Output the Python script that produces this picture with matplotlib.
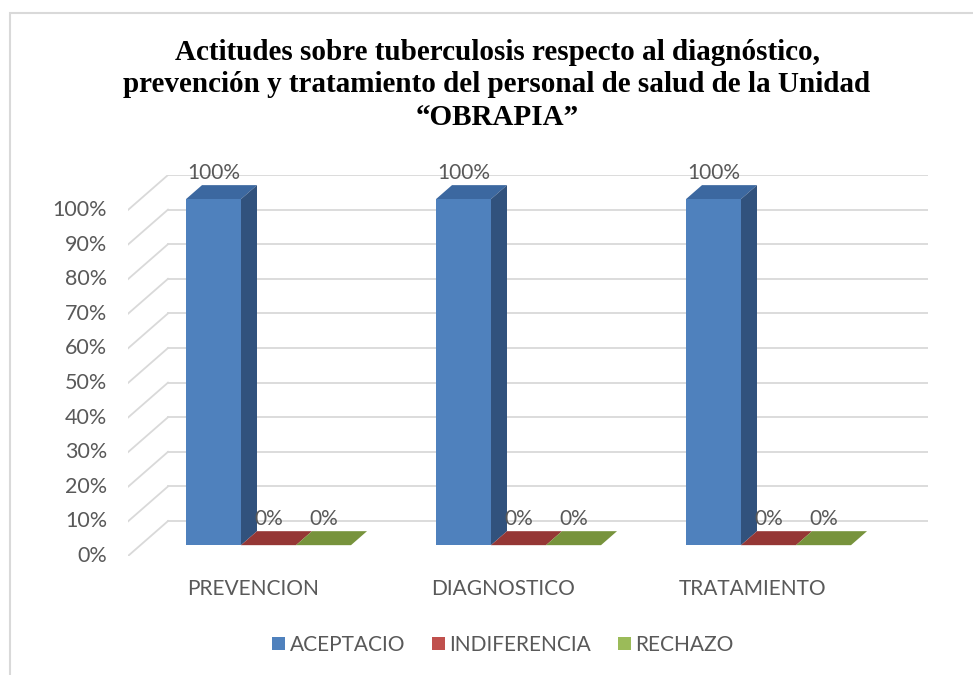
import matplotlib.pyplot as plt
from matplotlib.patches import Polygon, Rectangle, Patch

categories = ["PREVENCION", "DIAGNOSTICO", "TRATAMIENTO"]
series = ["ACEPTACIO", "INDIFERENCIA", "RECHAZO"]
aceptacion = [100, 100, 100]
indiferencia = [0, 0, 0]
rechazo = [0, 0, 0]
yticks = list(range(0, 101, 10))

front_cols = ["#4f81bd", "#c0504d", "#9bbb59"]
top_cols = ["#3c68a0", "#953735", "#77933c"]
side_cols = ["#31527d", "#7a2c2a", "#5f7630"]

FONT = "Lato"
TXT = "#595959"

# depth of the whole 3D box, in data units
DX, DY = 0.16, 10.1
XMAX = 3.2
# bar depth range (fractions of total depth)
F0, F1 = 0.31, 0.71
BW = 0.22
START = 0.1824


def proj(x, y, f):
    return (x + f * DX, y + f * DY)


fig = plt.figure(figsize=(9.73, 6.75), dpi=100)
W, H = 973, 675
ax = fig.add_axes([128 / W, 1 - 556 / H, 800 / W, 381 / H])
ax.set_xlim(0, XMAX)
ax.set_ylim(0, 100 + DY)
ax.axis("off")

# walls
for v in yticks:
    ax.plot([DX, XMAX], [v + DY, v + DY], color="#d9d9d9", lw=1.3, zorder=1)
    ax.plot([0, DX], [v, v + DY], color="#d9d9d9", lw=1.3, zorder=1)
    ax.annotate(f"{v}%", (0, v), xytext=(-15, 0), textcoords="offset points",
                ha="right", va="center", fontsize=15.5, family=FONT, color=TXT)

for i, cat in enumerate(categories):
    ax.text(i + 0.5, -9.5, cat, ha="center", va="center", fontsize=15,
            family=FONT, color=TXT)
    values = [aceptacion[i], indiferencia[i], rechazo[i]]
    for s, val in enumerate(values):
        x0 = i + START + s * BW
        x1 = x0 + BW
        # top face
        top = [proj(x0, val, F0), proj(x1, val, F0), proj(x1, val, F1), proj(x0, val, F1)]
        ax.add_patch(Polygon(top, closed=True, facecolor=top_cols[s], edgecolor="none", zorder=3))
        if val > 0:
            side = [proj(x1, 0, F0), proj(x1, 0, F1), proj(x1, val, F1), proj(x1, val, F0)]
            ax.add_patch(Polygon(side, closed=True, facecolor=side_cols[s], edgecolor="none", zorder=3))
            front = [proj(x0, 0, F0), proj(x1, 0, F0), proj(x1, val, F0), proj(x0, val, F0)]
            ax.add_patch(Polygon(front, closed=True, facecolor=front_cols[s], edgecolor="none", zorder=4))
        lx, ly = proj((x0 + x1) / 2, val, F0)
        ax.annotate(f"{val}%", (lx, ly), xytext=(0, 19), textcoords="offset points",
                    ha="center", va="center", fontsize=15, family=FONT, color=TXT,
                    zorder=5, annotation_clip=False)

fig.text(497 / W, 1 - 85 / H,
         "Actitudes sobre tuberculosis respecto al diagnóstico,\n"
         "prevención y tratamiento del personal de salud de la Unidad\n"
         "\u201cOBRAPIA\u201d",
         ha="center", va="center", fontsize=21, fontweight="bold",
         family="Liberation Serif", linespacing=1.24)

handles = [Patch(facecolor=c, edgecolor="none") for c in front_cols]
fig.legend(handles, series, loc="center", bbox_to_anchor=(503 / W, 1 - 645 / H),
           ncol=3, frameon=False, prop={"family": FONT, "size": 15},
           labelcolor=TXT, handlelength=0.62, handleheight=0.62,
           handletextpad=0.2, columnspacing=1.3)

# chart border (only top and left are visible in the source)
fig.patches.append(Rectangle((10 / W, -0.05), 1.1, 1 - 13 / H + 0.05, transform=fig.transFigure,
                             fill=False, edgecolor="#d9d9d9", lw=1.5))

fig.savefig("out.png", dpi=100)
